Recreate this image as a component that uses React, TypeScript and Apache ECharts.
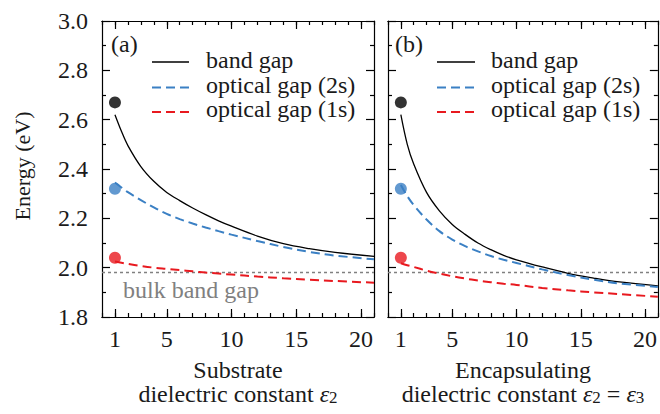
import React, { useEffect, useRef } from 'react';
import * as echarts from 'echarts';

const FONT = 'Liberation Serif, serif';

// dielectric constant values sampled along the curves
const EPS = [1, 1.5, 2, 3, 4, 5, 6, 7, 8, 9, 10, 12, 14, 16, 18, 21];

// (a) substrate, eps2
const BAND_SUB = [2.62, 2.553, 2.495, 2.41, 2.35, 2.305, 2.272, 2.242, 2.215, 2.19, 2.168, 2.128, 2.097, 2.077, 2.062, 2.046];
const OPT2S_SUB = [2.345, 2.325, 2.306, 2.274, 2.244, 2.218, 2.197, 2.179, 2.163, 2.148, 2.134, 2.108, 2.084, 2.064, 2.049, 2.034];
const OPT1S_SUB = [2.025, 2.02, 2.015, 2.007, 2.0, 1.995, 1.99, 1.985, 1.98, 1.976, 1.972, 1.964, 1.957, 1.951, 1.946, 1.939];

// (b) encapsulating, eps2 = eps3
const BAND_ENC = [2.62, 2.5, 2.42, 2.305, 2.23, 2.175, 2.135, 2.1, 2.073, 2.05, 2.032, 2.003, 1.977, 1.958, 1.942, 1.926];
const OPT2S_ENC = [2.335, 2.29, 2.254, 2.195, 2.148, 2.114, 2.087, 2.066, 2.047, 2.032, 2.019, 1.993, 1.97, 1.951, 1.936, 1.922];
const OPT1S_ENC = [2.018, 2.01, 2.003, 1.988, 1.976, 1.965, 1.956, 1.948, 1.941, 1.935, 1.93, 1.918, 1.908, 1.9, 1.893, 1.882];

// isolated (free-standing) values at eps = 1
const DOT_X = 1;
const BAND_DOT = 2.67;
const OPT2S_DOT = 2.32;
const OPT1S_DOT = 2.04;

const BULK_GAP = 1.98;
const X_RANGE = [0, 21];
const X_MAJOR = [1, 5, 10, 15, 20];
const Y_RANGE = [1.8, 3.0];

const LEGEND = ['band gap', 'optical gap (2s)', 'optical gap (1s)'];
const PANEL_LABELS = ['(a)', '(b)'];

const BLACK = '#000000';
const BLUE = '#3b80c4';
const RED = '#e8191f';
const GRAY = '#808080';
const TEXT = '#1a1a1a';

const GRIDS = [
  { left: 102, top: 21, width: 272, height: 296 },
  { left: 388, top: 21, width: 271, height: 296 },
];

const axisLineStyle = { color: '#000', width: 1.2 };

function xAxes(gi: number) {
  const base = {
    type: 'value',
    gridIndex: gi,
    min: X_RANGE[0],
    max: X_RANGE[1],
    splitLine: { show: false },
    axisLine: { show: true, onZero: false, lineStyle: axisLineStyle },
  };
  return [
    {
      ...base,
      position: 'bottom',
      interval: 5,
      axisTick: { show: true, inside: true, length: 8, customValues: X_MAJOR, lineStyle: axisLineStyle },
      axisLabel: { show: true, customValues: X_MAJOR, margin: 10, color: TEXT, fontSize: 24, fontFamily: FONT },
    },
    {
      ...base,
      position: 'bottom',
      interval: 1,
      axisTick: { show: true, inside: true, length: 4, lineStyle: axisLineStyle },
      axisLabel: { show: false },
    },
    {
      ...base,
      position: 'top',
      interval: 5,
      axisTick: { show: true, inside: true, length: 8, customValues: X_MAJOR, lineStyle: axisLineStyle },
      axisLabel: { show: false },
    },
    {
      ...base,
      position: 'top',
      interval: 1,
      axisTick: { show: true, inside: true, length: 4, lineStyle: axisLineStyle },
      axisLabel: { show: false },
    },
  ];
}

function yAxis(gi: number, pos: string, labels: boolean) {
  return {
    type: 'value',
    gridIndex: gi,
    position: pos,
    min: Y_RANGE[0],
    max: Y_RANGE[1],
    interval: 0.2,
    splitLine: { show: false },
    minorSplitLine: { show: false },
    axisLine: { show: true, onZero: false, lineStyle: axisLineStyle },
    axisTick: { show: true, inside: true, length: 8, lineStyle: axisLineStyle },
    minorTick: { show: true, splitNumber: 2, length: 4, lineStyle: axisLineStyle },
    axisLabel: {
      show: labels,
      margin: 14,
      color: TEXT,
      fontSize: 24,
      fontFamily: FONT,
      formatter: (v: number) => v.toFixed(1),
    },
  };
}

function lineSeries(name: string, ys: number[], gi: number, color: string, dashed: boolean) {
  return {
    type: 'line',
    name,
    xAxisIndex: gi * 4,
    yAxisIndex: gi * 2,
    data: EPS.map((x, i) => [x, ys[i]]),
    symbol: 'none',
    showSymbol: false,
    smooth: 0.35,
    silent: true,
    z: 4,
    lineStyle: { color, width: dashed ? 2 : 1.3, type: dashed ? [9, 5] : 'solid' },
  };
}

function dotSeries(y: number, gi: number, color: string) {
  return {
    type: 'scatter',
    xAxisIndex: gi * 4,
    yAxisIndex: gi * 2,
    data: [[DOT_X, y]],
    symbol: 'circle',
    symbolSize: 12,
    silent: true,
    z: 5,
    itemStyle: { color },
  };
}

function bulkSeries(gi: number) {
  return {
    type: 'line',
    xAxisIndex: gi * 4,
    yAxisIndex: gi * 2,
    data: [[X_RANGE[0], BULK_GAP], [X_RANGE[1], BULK_GAP]],
    symbol: 'none',
    silent: true,
    z: 3,
    lineStyle: { color: GRAY, width: 1.5, type: [3, 3] },
  };
}

function legendGraphics(lineX0: number, lineX1: number, textX: number) {
  const rows = [
    { y: 62, ty: 60, color: BLACK, dash: null as any, width: 1.3 },
    { y: 87.5, ty: 84.5, color: BLUE, dash: [9, 5], width: 2 },
    { y: 112, ty: 109, color: RED, dash: [9, 5], width: 2 },
  ];
  const out: any[] = [];
  rows.forEach((r, i) => {
    out.push({
      type: 'line',
      shape: { x1: lineX0, y1: r.y, x2: lineX1, y2: r.y },
      style: { stroke: r.color, lineWidth: r.width, lineDash: r.dash },
      silent: true,
    });
    out.push({
      type: 'text',
      x: textX,
      y: r.ty,
      style: { text: LEGEND[i], fontSize: 24, fontFamily: FONT, fill: TEXT, align: 'left', verticalAlign: 'middle' },
      silent: true,
    });
  });
  return out;
}

const richStyles = {
  e: { fontSize: 24, fontFamily: FONT, fontStyle: 'italic', fill: TEXT },
  s: { fontSize: 17, fontFamily: FONT, fill: TEXT, verticalAlign: 'bottom', lineHeight: 10 },
};

export default function App() {
  const ref = useRef<HTMLDivElement>(null);

  useEffect(() => {
    if (!ref.current) return;
    const chart = echarts.init(ref.current, undefined, { renderer: 'svg' });

    const graphic: any[] = [
      ...legendGraphics(152, 189, 206),
      ...legendGraphics(437, 475, 491),
      {
        type: 'text', x: 111, y: 44,
        style: { text: PANEL_LABELS[0], fontSize: 24, fontFamily: FONT, fill: TEXT, align: 'left', verticalAlign: 'middle' },
      },
      {
        type: 'text', x: 395, y: 44,
        style: { text: PANEL_LABELS[1], fontSize: 24, fontFamily: FONT, fill: TEXT, align: 'left', verticalAlign: 'middle' },
      },
      {
        type: 'text', x: 123, y: 290,
        style: { text: 'bulk band gap', fontSize: 24, fontFamily: FONT, fill: GRAY, align: 'left', verticalAlign: 'middle' },
      },
      {
        type: 'text', x: 22, y: 166, rotation: Math.PI / 2,
        style: { text: 'Energy (eV)', fontSize: 22, fontFamily: FONT, fill: TEXT, align: 'center', verticalAlign: 'middle' },
      },
      {
        type: 'text', x: 238, y: 370,
        style: { text: 'Substrate', fontSize: 24, fontFamily: FONT, fill: TEXT, align: 'center', verticalAlign: 'middle' },
      },
      {
        type: 'text', x: 238, y: 394,
        style: {
          text: 'dielectric constant {e|ε}{s|2}',
          fontSize: 24, fontFamily: FONT, fill: TEXT, align: 'center', verticalAlign: 'middle',
          rich: richStyles,
        },
      },
      {
        type: 'text', x: 523, y: 370,
        style: { text: 'Encapsulating', fontSize: 24, fontFamily: FONT, fill: TEXT, align: 'center', verticalAlign: 'middle' },
      },
      {
        type: 'text', x: 523, y: 394,
        style: {
          text: 'dielectric constant {e|ε}{s|2} = {e|ε}{s|3}',
          fontSize: 24, fontFamily: FONT, fill: TEXT, align: 'center', verticalAlign: 'middle',
          rich: richStyles,
        },
      },
    ];

    const option: any = {
      animation: false,
      backgroundColor: '#ffffff',
      textStyle: { fontFamily: FONT },
      grid: GRIDS.map((g) => ({ ...g, containLabel: false })),
      xAxis: [...xAxes(0), ...xAxes(1)],
      yAxis: [yAxis(0, 'left', true), yAxis(0, 'right', false), yAxis(1, 'left', false), yAxis(1, 'right', false)],
      series: [
        bulkSeries(0),
        lineSeries(LEGEND[0], BAND_SUB, 0, BLACK, false),
        lineSeries(LEGEND[1], OPT2S_SUB, 0, BLUE, true),
        lineSeries(LEGEND[2], OPT1S_SUB, 0, RED, true),
        dotSeries(BAND_DOT, 0, BLACK),
        dotSeries(OPT2S_DOT, 0, BLUE),
        dotSeries(OPT1S_DOT, 0, RED),
        bulkSeries(1),
        lineSeries(LEGEND[0], BAND_ENC, 1, BLACK, false),
        lineSeries(LEGEND[1], OPT2S_ENC, 1, BLUE, true),
        lineSeries(LEGEND[2], OPT1S_ENC, 1, RED, true),
        dotSeries(BAND_DOT, 1, BLACK),
        dotSeries(OPT2S_DOT, 1, BLUE),
        dotSeries(OPT1S_DOT, 1, RED),
      ],
      graphic,
    };

    chart.setOption(option);
    return () => chart.dispose();
  }, []);

  return (
    <div
      ref={ref}
      style={{ position: 'absolute', left: 0, top: 0, width: 660, height: 414, background: '#fff' }}
    />
  );
}
